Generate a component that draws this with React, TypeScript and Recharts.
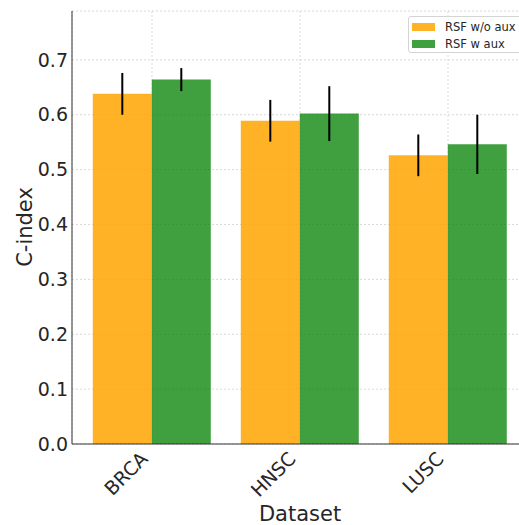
import React from "react";
import {
  BarChart,
  Bar,
  XAxis,
  YAxis,
  CartesianGrid,
  ErrorBar,
  Legend,
  Label,
} from "recharts";

const datasets = ["BRCA", "HNSC", "LUSC"];
const woAux = [0.638, 0.589, 0.526];
const woAuxErr = [0.038, 0.038, 0.038];
const wAux = [0.664, 0.602, 0.546];
const wAuxErr = [0.021, 0.05, 0.054];
const yTicks = [0, 0.1, 0.2, 0.3, 0.4, 0.5, 0.6, 0.7];

const ORANGE = "#FFA500";
const GREEN = "#008000";
const TEXT = "#262626";
const FONT = "'DejaVu Sans', sans-serif";

const data = datasets.map((name, i) => ({
  name,
  woAux: woAux[i],
  woAuxErr: woAuxErr[i],
  wAux: wAux[i],
  wAuxErr: wAuxErr[i],
}));

const legendItems = [
  { label: "RSF w/o aux", color: ORANGE, opacity: 0.85 },
  { label: "RSF w aux", color: GREEN, opacity: 0.75 },
];

function RotatedTick(props: any) {
  const { x, y, payload } = props;
  const tx = x - 3;
  const ty = y + 16;
  return (
    <text
      x={tx}
      y={ty}
      transform={`rotate(-45, ${tx}, ${ty})`}
      textAnchor="end"
      fill={TEXT}
      fontSize={19}
      fontFamily={FONT}
    >
      {payload.value}
    </text>
  );
}

function LegendBox() {
  return (
    <div
      style={{
        border: "1px solid #d4d4d4",
        borderRadius: 3,
        background: "rgba(255,255,255,0.8)",
        width: 140,
        height: 37,
        boxSizing: "border-box",
        position: "relative",
        fontFamily: FONT,
        fontSize: 11.5,
        color: TEXT,
      }}
    >
      {legendItems.map((item, i) => (
        <div
          key={item.label}
          style={{
            position: "absolute",
            left: 3,
            top: 4 + i * 17,
            height: 12,
            display: "flex",
            alignItems: "center",
            whiteSpace: "nowrap",
          }}
        >
          <div
            style={{
              width: 23,
              height: 8,
              background: item.color,
              opacity: item.opacity,
              marginRight: 10,
              flexShrink: 0,
            }}
          />
          <span style={{ lineHeight: "12px" }}>{item.label}</span>
        </div>
      ))}
    </div>
  );
}

export default function App() {
  return (
    <div
      style={{
        position: "absolute",
        left: 0,
        top: 0,
        width: 519,
        height: 525,
        overflow: "hidden",
        background: "#fff",
        fontFamily: FONT,
      }}
    >
      <BarChart
        width={540}
        height={525}
        data={data}
        margin={{ top: 11, right: 12, left: 0, bottom: 0 }}
        barCategoryGap="10%"
        barGap={0}
      >
        <CartesianGrid stroke="#cfcfcf" strokeDasharray="2 2" strokeWidth={0.8} />
        <XAxis
          dataKey="name"
          height={81}
          padding={{ left: 6, right: 6 }}
          tickLine={false}
          tickSize={0}
          tickMargin={0}
          axisLine={{ stroke: "#333", strokeWidth: 1 }}
          tick={<RotatedTick />}
          interval={0}
        >
          <Label
            value="Dataset"
            content={() => (
              <text x={300} y={521} textAnchor="middle" fill={TEXT} fontSize={21} fontFamily={FONT}>
                Dataset
              </text>
            )}
          />
        </XAxis>
        <YAxis
          width={72}
          domain={[0, 0.789]}
          ticks={yTicks}
          tickFormatter={(v: number) => v.toFixed(1)}
          tickLine={false}
          tickSize={0}
          tickMargin={4}
          axisLine={{ stroke: "#333", strokeWidth: 1 }}
          tick={{ fill: TEXT, fontSize: 19, fontFamily: FONT }}
        >
          <Label
            value="C-index"
            content={() => (
              <text
                x={32}
                y={227}
                transform="rotate(-90, 32, 227)"
                textAnchor="middle"
                fill={TEXT}
                fontSize={21}
                fontFamily={FONT}
              >
                C-index
              </text>
            )}
          />
        </YAxis>
        <Legend
          layout="vertical"
          align="center"
          verticalAlign="middle"
          wrapperStyle={{ position: "absolute", top: 16, left: 408, width: 140, height: 37 }}
          content={() => <LegendBox />}
        />
        <Bar dataKey="woAux" fill={ORANGE} fillOpacity={0.85} isAnimationActive={false}>
          <ErrorBar dataKey="woAuxErr" direction="y" width={0} stroke="#000" strokeWidth={2} />
        </Bar>
        <Bar dataKey="wAux" fill={GREEN} fillOpacity={0.75} isAnimationActive={false}>
          <ErrorBar dataKey="wAuxErr" direction="y" width={0} stroke="#000" strokeWidth={2} />
        </Bar>
      </BarChart>
    </div>
  );
}
